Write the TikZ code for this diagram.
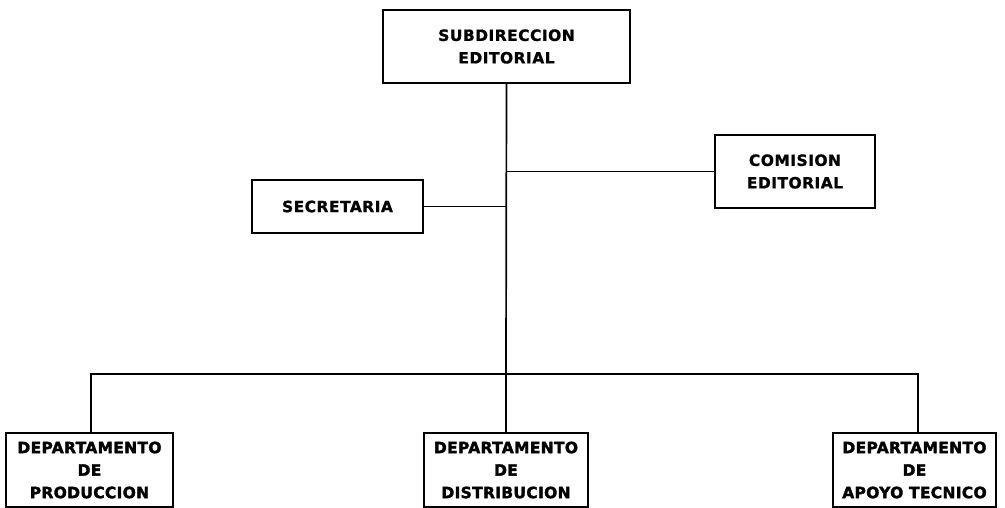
\documentclass[tikz,border=0pt]{standalone}
\usepackage{fontspec}
\newfontfamily\orgfont[LetterSpace=3,FakeBold=1]{DejaVu Sans Bold}
\newfontfamily\deptfont[LetterSpace=2,FakeBold=2]{DejaVu Sans Bold}
\begin{document}
\begin{tikzpicture}[x=1pt,y=-1pt,
  orgbox/.style={draw=black,line width=2.2pt,inner sep=0pt,outer sep=0pt,align=center,
     font={\orgfont\fontsize{15.5}{22.5}\selectfont}},
  deptbox/.style={orgbox,minimum height=74pt,
     font={\deptfont\fontsize{15.5}{22.5}\selectfont}},
  link/.style={line width=1.7pt,line cap=rect}]
\useasboundingbox (0,0) rectangle (1005,508);
\node[orgbox,minimum width=247pt,minimum height=73pt] (top) at (506.5,46.5) {SUBDIRECCION\\EDITORIAL};
\node[orgbox,minimum width=171pt,minimum height=53pt] (sec) at (337.5,206.5) {SECRETARIA};
\node[orgbox,minimum width=160pt,minimum height=73pt] (com) at (795,171.5) {COMISION\\EDITORIAL};
\node[deptbox,minimum width=167pt] (prod) at (89.5,470) {DEPARTAMENTO\\DE\\PRODUCCION};
\node[deptbox,minimum width=164pt] (dist) at (506,470) {DEPARTAMENTO\\DE\\DISTRIBUCION};
\node[deptbox,minimum width=163pt] (apoyo) at (914.5,470) {DEPARTAMENTO\\DE\\APOYO TECNICO};
\coordinate (hub) at (506,374);
\coordinate (pl) at (91,374);
\coordinate (pr) at (918,374);
\draw[link] (top.south) -- (hub);
\draw[link] (com.west) -- (top.south |- com.west);
\draw[link] (sec.east) -- (top.south |- sec.east);
\draw[link] (pl) -- (pr);
\draw[link] (pl) -- (pl |- prod.north);
\draw[link] (pr) -- (pr |- apoyo.north);
\draw[link] (hub) -- (hub |- dist.north);
\end{tikzpicture}
\end{document}
